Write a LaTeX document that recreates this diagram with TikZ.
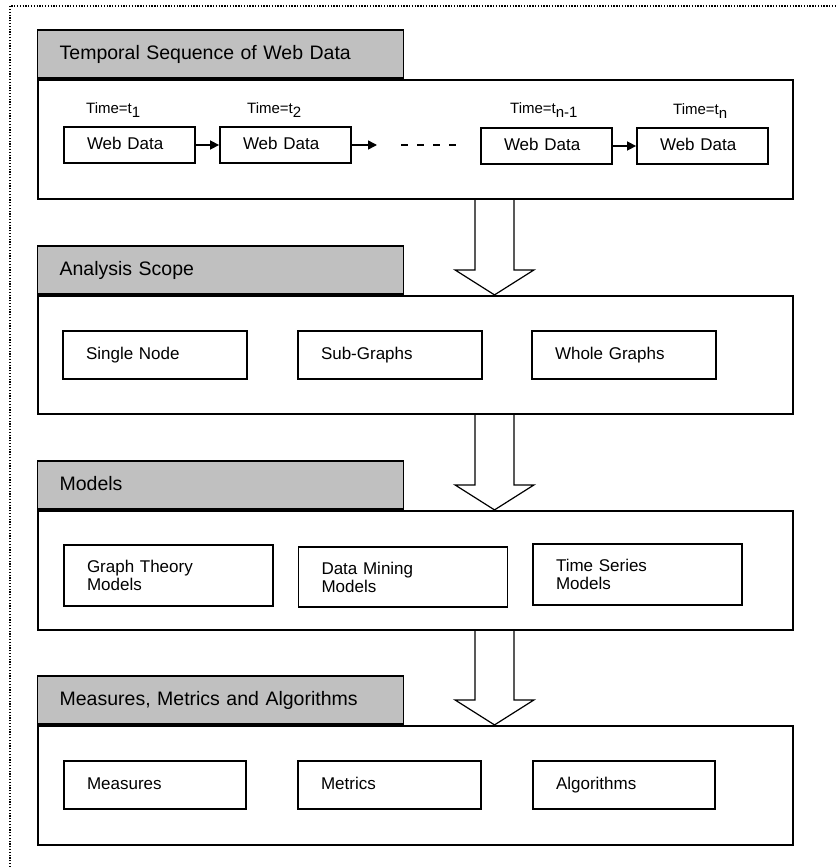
\documentclass[tikz,border=0pt]{standalone}
\usepackage{fontspec}
\setmainfont{Liberation Sans}
\usetikzlibrary{arrows.meta,positioning,calc}
\definecolor{tabgray}{RGB}{192,192,192}
\newcommand{\lowsub}[1]{\raisebox{-4pt}{#1}}
% hollow arrow between two panels
\newcommand{\blockarrow}[2]{%
  \draw[blockarr] let \p1=(#1.south), \p2=(#2.north) in
    (\x1+59.5pt,\y1) -- (\x1+59.5pt,\y2+25pt) -- (\x1+39.5pt,\y2+25pt)
    -- (\x1+79pt,\y2) -- (\x1+118.5pt,\y2+25pt) -- (\x1+98.5pt,\y2+25pt)
    -- (\x1+98.5pt,\y1);}
\tikzset{
  panel/.style={draw,line width=2.2pt,minimum width=755pt,inner sep=0pt},
  tab/.style={draw,line width=1.5pt,fill=tabgray,minimum width=366pt,minimum height=48pt,
    inner sep=0pt,text width=322pt,align=left,anchor=south west,
    text height=14pt,text depth=4pt,font=\fontsize{19.5}{23}\selectfont},
  item/.style={draw,line width=1.8pt,inner sep=0pt,align=left,
    font=\fontsize{17}{18}\selectfont},
  oneline/.style={text height=12.5pt,text depth=3.5pt},
  webbox/.style={item,oneline,minimum width=131pt,minimum height=36pt,text width=85pt},
  scopebox/.style={item,oneline,minimum width=184pt,minimum height=48pt,text width=138pt},
  modelbox/.style={item,minimum width=209pt,minimum height=61pt,text width=163pt},
  timelbl/.style={anchor=base west,inner sep=0pt,font=\fontsize{15}{18}\selectfont},
  link/.style={line width=1.5pt,-{Triangle[length=9pt,width=9pt]}},
  dashline/.style={line width=1.5pt,dash pattern=on 7pt off 9pt},
  blockarr/.style={line width=1.2pt,line join=miter},
  frame/.style={line width=1.3pt,dash pattern=on 1.3pt off 1.5pt}
}
\begin{document}
\begin{tikzpicture}[x=1pt,y=-1pt]
\useasboundingbox (0,0) rectangle (836,867);
\draw[frame] (10,867) |- (836,6);

% panels
\node[panel,minimum height=119pt] (p1) at (415.5,139.5) {};
\node[panel,minimum height=118pt] (p2) at (415.5,355) {};
\node[panel,minimum height=119pt] (p3) at (415.5,570.5) {};
\node[panel,minimum height=119pt] (p4) at (415.5,785.5) {};
\node[tab] (h1) at (p1.north west) {Temporal Sequence of Web Data};
\node[tab] (h2) at (p2.north west) {Analysis Scope};
\node[tab] (h3) at (p3.north west) {Models};
\node[tab] (h4) at (p4.north west) {Measures, Metrics and Algorithms};

% web data sequence
\node[webbox] (w1) at (129.5,145) {Web Data};
\node[webbox] (w2) at (285.5,145) {Web Data};
\node[webbox] (w3) at (546.5,146) {Web Data};
\node[webbox] (w4) at (702.5,146) {Web Data};
\node[timelbl] (t1) at (86,113) {Time=t\lowsub{1}};
\node[timelbl] (t2) at (247,113) {Time=t\lowsub{2}};
\node[timelbl] (t3) at (510,113) {Time=t\lowsub{n-1}};
\node[timelbl] (t4) at (673,114) {Time=t\lowsub{n}};
\coordinate (gap) at (377,145);
\coordinate (dashA) at (401,145);
\coordinate (dashB) at (457,145);
\draw[link] (w1) -- (w2);
\draw[link] (w2.east) -- (gap);
\draw[dashline] (dashA) -- (dashB);
\draw[link] (w3) -- (w4);

% analysis scope
\node[scopebox] (single) at (155,355) {Single Node};
\node[scopebox] (subg) at (390,355) {Sub-Graphs};
\node[scopebox] (whole) at (624,355) {Whole Graphs};

% models
\node[modelbox] (graphm) at (168.5,575.5) {Graph Theory\\Models};
\node[modelbox,minimum height=60pt] (minem) at (403,577) {Data Mining\\Models};
\node[modelbox] (timem) at (637.5,574.5) {Time Series\\Models};

% measures
\node[scopebox,minimum width=182pt,text width=136pt] (meas) at (155,785) {Measures};
\node[scopebox,minimum width=183pt,text width=137pt] (metr) at (389.5,785) {Metrics};
\node[scopebox,minimum width=182pt,text width=136pt] (algo) at (624,785) {Algorithms};

\blockarrow{p1}{p2}
\blockarrow{p2}{p3}
\blockarrow{p3}{p4}
\end{tikzpicture}
\end{document}
